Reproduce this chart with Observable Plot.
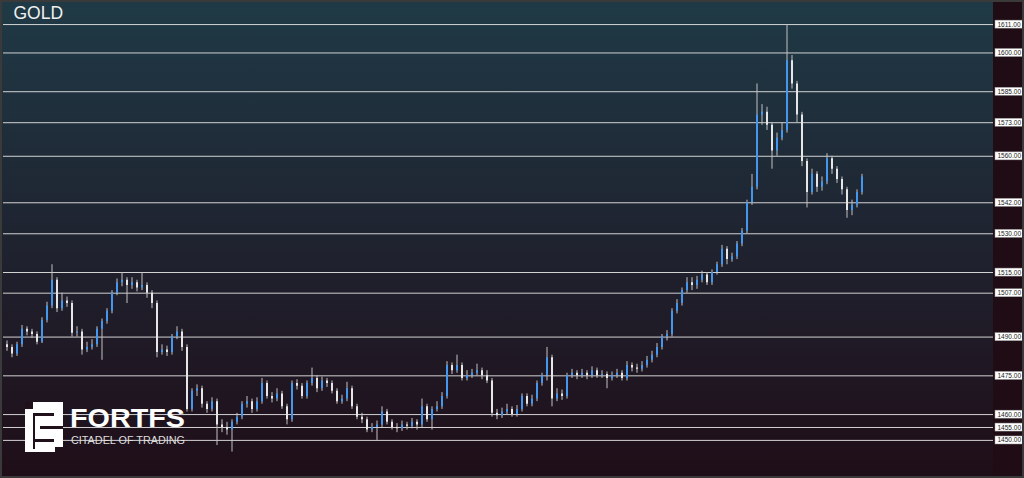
<!DOCTYPE html>
<html><head><meta charset="utf-8">
<script src="https://cdn.jsdelivr.net/npm/d3@7"></script>
<script src="https://cdn.jsdelivr.net/npm/@observablehq/plot@0.6"></script>
<style>
html,body{margin:0;padding:0;background:#1b1b1b;}
#chart{width:1024px;height:478px;overflow:hidden;}
</style></head><body><div id="chart"></div>
<script>
const symbol = "GOLD";
const brand = "FORTFS";
const slogan = "CITADEL OF TRADING";
const levels = [1611,1600,1585,1573,1560,1542,1530,1515,1507,1490,1475,1460,1455,1450];
const firstOpen = 1487;
const closes = [1486,1483.5,1487,1493,1492,1491,1488,1496.5,1502,1512,
 1501,1504,1503,1491.5,1492,1485,1486,1487,1493,1496,
 1500,1507,1511,1512,1510,1511,1509,1510,1507,1503,
 1484,1485,1484,1490,1492,1486,1462,1469,1470,1464,
 1462,1465,1456,1455,1454,1457,1459,1464,1465,1462,
 1465,1472,1467,1466,1468,1463,1458,1472,1471,1467,
 1472,1474,1470,1473,1472,1469,1465,1466,1470,1463,
 1459,1458,1454,1455,1456,1461,1457,1455,1454.5,1456,
 1455.5,1457,1456,1463,1458,1462,1463,1467,1479,1477,
 1479,1474,1475,1476,1477,1475,1473,1460.5,1459.5,1461,
 1462,1460,1462,1467,1464,1466,1472,1475,1482,1466,
 1468,1467,1475,1476,1475,1476,1475,1477,1475,1475.5,
 1474,1475,1476,1474,1479,1478,1477.5,1479,1481,1483,
 1486,1490,1491,1500,1503,1508,1511,1510,1512,1514,
 1511,1515,1518,1524,1520,1521,1526,1531,1542,1548,
 1576,1577,1572,1562,1567,1570,1597,1588,1576,1558,
 1546,1553,1548,1550,1559,1555,1551,1547,1539,1541,
 1546,1552];
const highs = [1488.5,1487,1488,1494.5,1494,1493,1492,1497.5,1503.5,1518,
 1513,1507,1505.5,1504,1494,1493,1488,1489,1494,1497,
 1501,1508,1512.5,1515,1513,1513,1512,1515,1511,1508,
 1504,1487,1486.5,1491,1494,1493,1487,1470,1471.5,1471,
 1465,1466.5,1466,1458,1457,1458,1460.5,1465,1467,1466,
 1466.5,1474,1473,1468.5,1470,1469,1464,1473,1473.5,1472,
 1473,1478,1475,1474.5,1474,1473,1470,1467.5,1472.5,1471,
 1464,1460.5,1459,1456.5,1457.5,1463,1462,1458,1456.5,1457.5,
 1457,1458.5,1458,1466,1464,1463,1465,1468.5,1480.5,1480,
 1483,1480,1477,1477.5,1479.5,1478,1477,1474,1462,1462.5,
 1464,1463,1463.5,1468,1468,1467.5,1473,1476,1486,1483,
 1470,1469.5,1476,1477.5,1477,1477.5,1477,1478.5,1478,1477,
 1476.5,1476.5,1477.5,1477,1480.5,1480,1479.5,1480.5,1482.5,1484.5,
 1487.5,1491,1492.5,1501,1504.5,1509,1513,1513,1513.5,1515.5,
 1515,1516,1519,1525.5,1525,1522.5,1527,1532,1543,1553,
 1588,1580,1579,1573,1569,1573,1611,1599,1589,1577,
 1559,1555,1554,1552,1561,1560,1556,1552,1548,1543,
 1547,1553];
const lows = [1484.5,1482,1482.5,1486,1490.5,1489.5,1487,1487.5,1495.5,1501,
 1499.5,1500,1501.5,1490,1490,1483,1484,1485,1486,1481,
 1495,1499,1506,1509.5,1503,1508.5,1507.5,1508,1505,1501,
 1482,1483,1482.5,1483,1489,1484.5,1461,1461,1467,1462.5,
 1460.5,1461,1448,1453,1452,1445.5,1456,1458,1462.5,1460.5,
 1461,1464,1466,1464.5,1465,1462,1456,1457,1469.5,1466,
 1466,1471,1468.5,1469,1470.5,1468,1464,1464,1465,1462,
 1458,1456.5,1453,1453,1450,1455,1456,1454,1453,1453.5,
 1454,1454.5,1454,1455,1457,1454,1461,1462,1466,1475.5,
 1476,1473,1473,1474,1475,1473.5,1472,1459,1458,1458.5,
 1460,1459,1459,1461,1463,1463,1465,1471,1473,1463,
 1465,1465.5,1466,1474,1473.5,1474,1473.5,1474,1474,1474,
 1470,1473,1474,1473,1473,1476.5,1476,1476.5,1478,1480,
 1482,1485,1488.5,1490,1499,1502,1507,1508,1508.5,1511,
 1510,1510,1514,1517,1518,1519,1520,1525,1530,1541,
 1547,1572,1570,1555,1560,1566,1569,1586,1573,1556,
 1540,1545,1546,1546.5,1549,1553,1549.5,1545,1536,1537,
 1540,1545];

const candles = closes.map((c, i) => ({
  i, open: i === 0 ? firstOpen : closes[i - 1], close: c, high: highs[i], low: lows[i]
}));
const up = candles.filter(d => d.close >= d.open);
const down = candles.filter(d => d.close < d.open);

const font = "'Liberation Sans', Arial, sans-serif";
const plot = Plot.plot({
  width: 1024, height: 478,
  marginLeft: 3, marginRight: 31, marginTop: 3, marginBottom: 4,
  x: {domain: [-0.7, 197.3], axis: null},
  y: {domain: [1436.8, 1619.15], axis: null},
  style: {background: "transparent", fontFamily: font},
  marks: [
    Plot.ruleY(levels, {y: d => d, stroke: "#d2d2d2", strokeWidth: 1}),
    Plot.ruleX(candles, {x: "i", y1: "low", y2: "high", stroke: "#c2c2c2", strokeWidth: 1}),
    Plot.ruleX(down, {x: "i", y1: "open", y2: "close", stroke: "#e6e6e6", strokeWidth: 2}),
    Plot.ruleX(up, {x: "i", y1: "open", y2: "close", stroke: "#4597ee", strokeWidth: 2}),
    Plot.text(levels, {y: d => d, text: d => d.toFixed(2), frameAnchor: "right", dx: 4, textAnchor: "start", fontSize: 6.5, fill: "#1a1a1a", className: "lvl"}),
    Plot.text([symbol], {text: d => d, frameAnchor: "top-left", dx: 10, dy: 3, lineAnchor: "top", textAnchor: "start", fontSize: 17.5, fill: "#f0f0f0"})
  ]
});
document.getElementById("chart").appendChild(plot);

const svg = d3.select(plot);
// backgrounds
svg.insert("rect", ":first-child").attr("x", 993).attr("y", 0).attr("width", 31).attr("height", 478).attr("fill", "#200c14");
svg.insert("rect", ":first-child").attr("x", 0).attr("y", 0).attr("width", 1024).attr("height", 478).attr("fill", "url(#bgGrad)");
const defs = svg.insert("defs", ":first-child");
const g = defs.append("linearGradient").attr("id", "bgGrad").attr("x1", 0).attr("y1", 0).attr("x2", 0).attr("y2", 1);
g.append("stop").attr("offset", "0%").attr("stop-color", "#1f3a46");
g.append("stop").attr("offset", "50%").attr("stop-color", "#1f2330");
g.append("stop").attr("offset", "100%").attr("stop-color", "#1f0e18");

// label boxes
svg.selectAll(".lvl text").each(function() {
  const b = this.getBBox();
  const r = document.createElementNS("http://www.w3.org/2000/svg", "rect");
  r.setAttribute("x", b.x - 2.5);
  r.setAttribute("y", b.y - 0.5);
  r.setAttribute("width", b.width + 5);
  r.setAttribute("height", b.height + 1);
  r.setAttribute("fill", "#ffffff");
  r.setAttribute("stroke", "#9a9a9a");
  r.setAttribute("stroke-width", 0.5);
  const t = this.getAttribute("transform");
  if (t) r.setAttribute("transform", t);
  this.parentNode.insertBefore(r, this);
});

// logo
const logo = svg.append("g").attr("text-anchor", "start");
logo.append("rect").attr("x", 25).attr("y", 402).attr("width", 38).attr("height", 50).attr("fill", "#ffffff");
const cuts = [[25,402,8,7],[33,413,2,36],[35,413,19,3],[40,426,23,3],[35,439,19,3],[55,447,8,5]];
logo.selectAll("rect.cut").data(cuts).join("rect").attr("class","cut")
  .attr("x", d => d[0]).attr("y", d => d[1]).attr("width", d => d[2]).attr("height", d => d[3]).attr("fill", "#1f1019");
logo.append("text").attr("x", 70).attr("y", 427).attr("font-family", font).attr("font-weight", "bold")
  .attr("text-anchor", "start").attr("font-size", 26).attr("fill", "#ffffff").attr("textLength", 115).attr("lengthAdjust", "spacingAndGlyphs").text(brand);
logo.append("text").attr("x", 71).attr("y", 444).attr("font-family", font)
  .attr("text-anchor", "start").attr("font-size", 10).attr("fill", "#dedede").attr("textLength", 114).attr("lengthAdjust", "spacingAndGlyphs").text(slogan);

// border
svg.append("rect").attr("x", 1).attr("y", 1).attr("width", 1022).attr("height", 476).attr("fill", "none").attr("stroke", "#3a3a3a").attr("stroke-width", 2);
</script></body></html>
